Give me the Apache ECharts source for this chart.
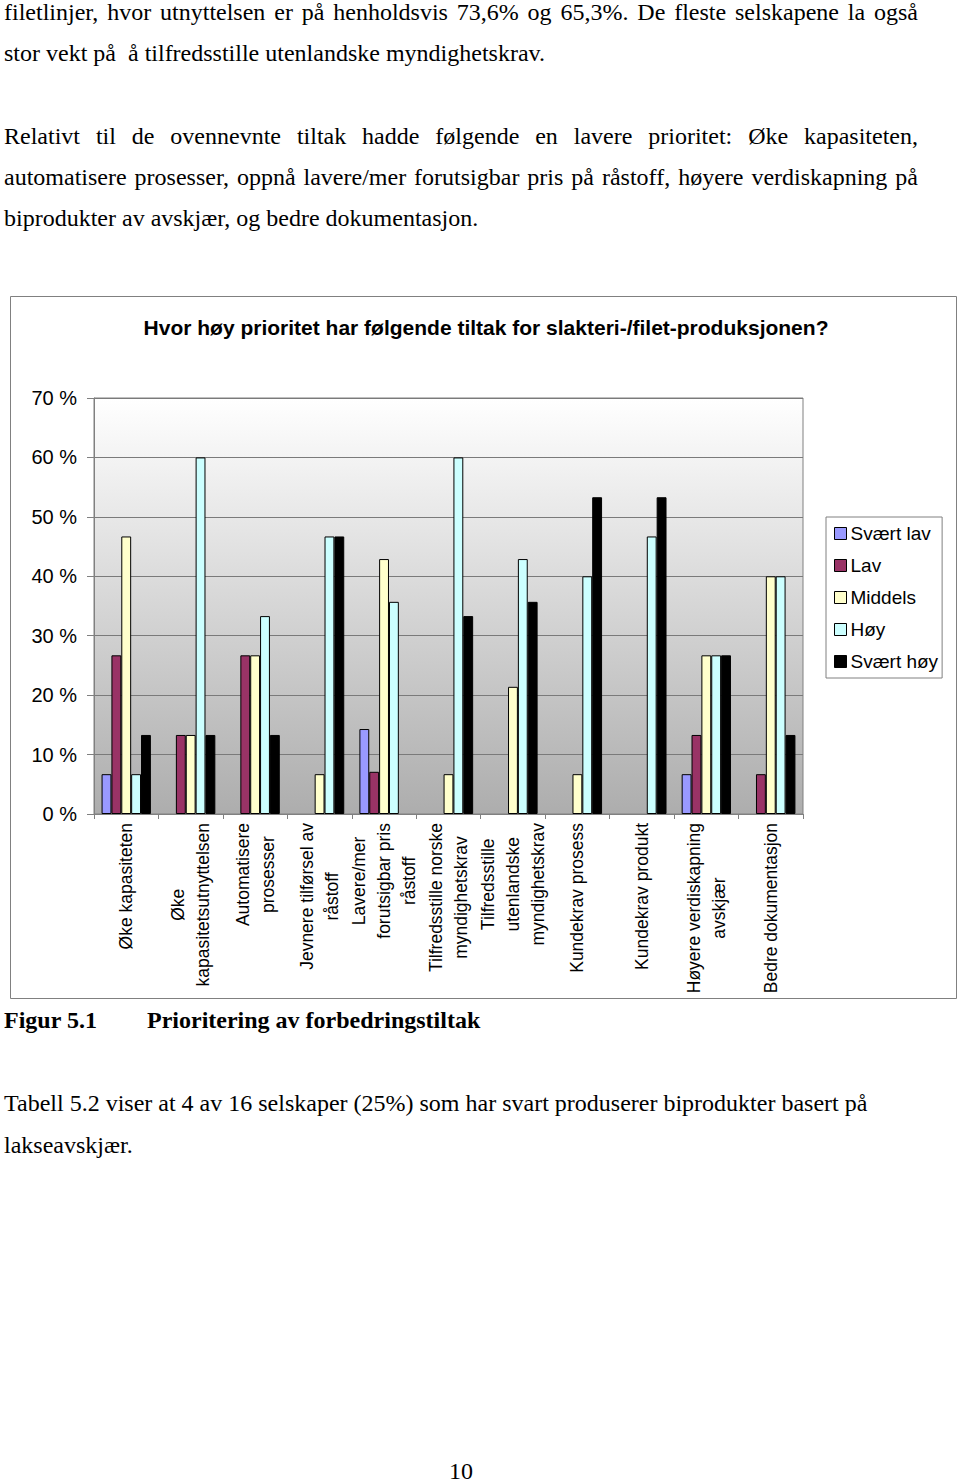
<!DOCTYPE html>
<html>
<head>
<meta charset="utf-8">
<script src="https://cdn.jsdelivr.net/npm/echarts@6/dist/echarts.min.js"></script>
<style>
  html, body { margin: 0; padding: 0; background: #fff; }
  #page { position: relative; width: 960px; height: 1483px; overflow: hidden; }
  #chart { position: absolute; left: 0; top: 0; width: 960px; height: 1483px; }
  .ln { position: absolute; left: 4px; font-family: "Liberation Serif", "Times New Roman", serif; font-size: 24px; line-height: 24px; white-space: pre; color: #000; }
  .ln span { white-space: pre; }
  .b { font-weight: bold; }
</style>
</head>
<body>
<div id="page">
  <div id="chart"></div>
  <div class="ln j" style="top:0px"><span>filetlinjer, hvor utnyttelsen er på henholdsvis 73,6% og 65,3%. De fleste selskapene la også</span></div>
  <div class="ln" style="top:41px"><span>stor vekt på  å tilfredsstille utenlandske myndighetskrav.</span></div>
  <div class="ln j" style="top:124px"><span>Relativt til de ovennevnte tiltak hadde følgende en lavere prioritet: Øke kapasiteten,</span></div>
  <div class="ln j" style="top:165px"><span>automatisere prosesser, oppnå lavere/mer forutsigbar pris på råstoff, høyere verdiskapning på</span></div>
  <div class="ln" style="top:206px"><span>biprodukter av avskjær, og bedre dokumentasjon.</span></div>
  <div class="ln b" style="top:1008px"><span>Figur 5.1</span></div>
  <div class="ln b" style="top:1008px;left:147px"><span>Prioritering av forbedringstiltak</span></div>
  <div class="ln" style="top:1091px"><span>Tabell 5.2 viser at 4 av 16 selskaper (25%) som har svart produserer biprodukter basert på</span></div>
  <div class="ln" style="top:1133px"><span>lakseavskjær.</span></div>
  <div class="ln" style="top:1461px;left:449px;line-height:20px"><span>10</span></div>
</div>
<script>
// ---- Data (percent of respondents) ----
var categories = [
  'Øke kapasiteten',
  'Øke\nkapasitetsutnyttelsen',
  'Automatisere\nprosesser',
  'Jevnere tilførsel av\nråstoff',
  'Lavere/mer\nforutsigbar pris\nråstoff',
  'Tilfredsstille norske\nmyndighetskrav',
  'Tilfredsstille\nutenlandske\nmyndighetskrav',
  'Kundekrav prosess',
  'Kundekrav produkt',
  'Høyere verdiskapning\navskjær',
  'Bedre dokumentasjon'
];
var seriesNames = ['Svært lav', 'Lav', 'Middels', 'Høy', 'Svært høy'];
var svaertLav = [6.7, 0, 0, 0, 14.3, 0, 0, 0, 0, 6.7, 0];
var lav       = [26.7, 13.3, 26.7, 0, 7.1, 0, 0, 0, 0, 13.3, 6.7];
var middels   = [46.7, 13.3, 26.7, 6.7, 42.9, 6.7, 21.4, 6.7, 0, 26.7, 40];
var hoy       = [6.7, 60, 33.3, 46.7, 35.7, 60, 42.9, 40, 46.7, 26.7, 40];
var svaertHoy = [13.3, 13.3, 13.3, 46.7, 0, 33.3, 35.7, 53.3, 53.3, 26.7, 13.3];
var yTicks = { min: 0, max: 70, interval: 10 };
var chartTitle = 'Hvor høy prioritet har følgende tiltak for slakteri-/filet-produksjonen?';

var colors = ['#9999FF', '#993366', '#FFFFCC', '#CCFFFF', '#000000'];
var values = [svaertLav, lav, middels, hoy, svaertHoy];

var chart = echarts.init(document.getElementById('chart'), null, { renderer: 'svg' });
var sansFont = '"Liberation Sans", Arial, sans-serif';

var option = {
  animation: false,
  color: colors,
  title: {
    text: chartTitle,
    left: 481,
    top: 312,
    textAlign: 'center',
    textStyle: { fontFamily: sansFont, fontSize: 21, fontWeight: 'bold', color: '#000' }
  },
  legend: {
    orient: 'vertical',
    left: 826,
    top: 517,
    padding: [7, 4, 7, 8],
    itemGap: 13,
    itemWidth: 12,
    itemHeight: 12,
    icon: 'rect',
    backgroundColor: '#fff',
    borderColor: '#808080',
    borderWidth: 1,
    textStyle: { fontFamily: sansFont, fontSize: 19, color: '#000', padding: [0, 0, 0, -1] },
    itemStyle: { borderColor: '#000', borderWidth: 1 },
    data: seriesNames
  },
  grid: {
    left: 94, right: 157, top: 398, bottom: 669,
    show: true,
    backgroundColor: {
      type: 'linear', x: 0, y: 0, x2: 0, y2: 1,
      colorStops: [{ offset: 0, color: '#ffffff' }, { offset: 1, color: '#adadad' }]
    },
    borderColor: '#808080',
    borderWidth: 1
  },
  xAxis: {
    type: 'category',
    data: categories,
    axisLine: { lineStyle: { color: '#808080', width: 1 } },
    axisTick: { show: true, length: 5, lineStyle: { color: '#808080' } },
    axisLabel: {
      interval: 0,
      rotate: 90,
      margin: 9,
      color: '#000',
      fontFamily: sansFont,
      fontSize: 17.5,
      lineHeight: 25,
      formatter: function (v) {
        return v.split('\n').map(function (s) { return '{c|' + s + '}'; }).join('\n');
      },
      rich: {
        c: { align: 'center', fontFamily: sansFont, fontSize: 17.5, lineHeight: 25, color: '#000' }
      }
    }
  },
  yAxis: {
    type: 'value',
    min: yTicks.min,
    max: yTicks.max,
    interval: yTicks.interval,
    axisLine: { show: true, lineStyle: { color: '#808080', width: 1 } },
    axisTick: { show: true, length: 7, lineStyle: { color: '#808080' } },
    splitLine: { show: true, lineStyle: { color: '#7a7a7a', width: 1 } },
    axisLabel: {
      margin: 17,
      color: '#000',
      fontFamily: sansFont,
      fontSize: 20,
      formatter: '{value} %'
    }
  },
  series: seriesNames.map(function (name, i) {
    return {
      name: name,
      type: 'bar',
      // a zero share draws no bar
      data: values[i].map(function (v) { return v === 0 ? null : v; }),
      barGap: '0%',
      barCategoryGap: '23.5%',
      itemStyle: { color: colors[i], borderColor: '#000', borderWidth: 1 }
    };
  }),
  graphic: [{
    type: 'rect',
    shape: { x: 10.5, y: 296.5, width: 946, height: 702 },
    style: { fill: 'none', stroke: '#808080', lineWidth: 1 },
    silent: true,
    z: -10
  }]
};
chart.setOption(option);

// justify selected text lines to the page text width
var TARGET = 914;
Array.prototype.forEach.call(document.querySelectorAll('.j'), function (el) {
  var span = el.querySelector('span');
  var txt = span.textContent;
  var n = (txt.match(/ /g) || []).length;
  var w = span.getBoundingClientRect().width;
  if (n > 0) span.style.wordSpacing = ((TARGET - w) / n) + 'px';
});
</script>
</body>
</html>
